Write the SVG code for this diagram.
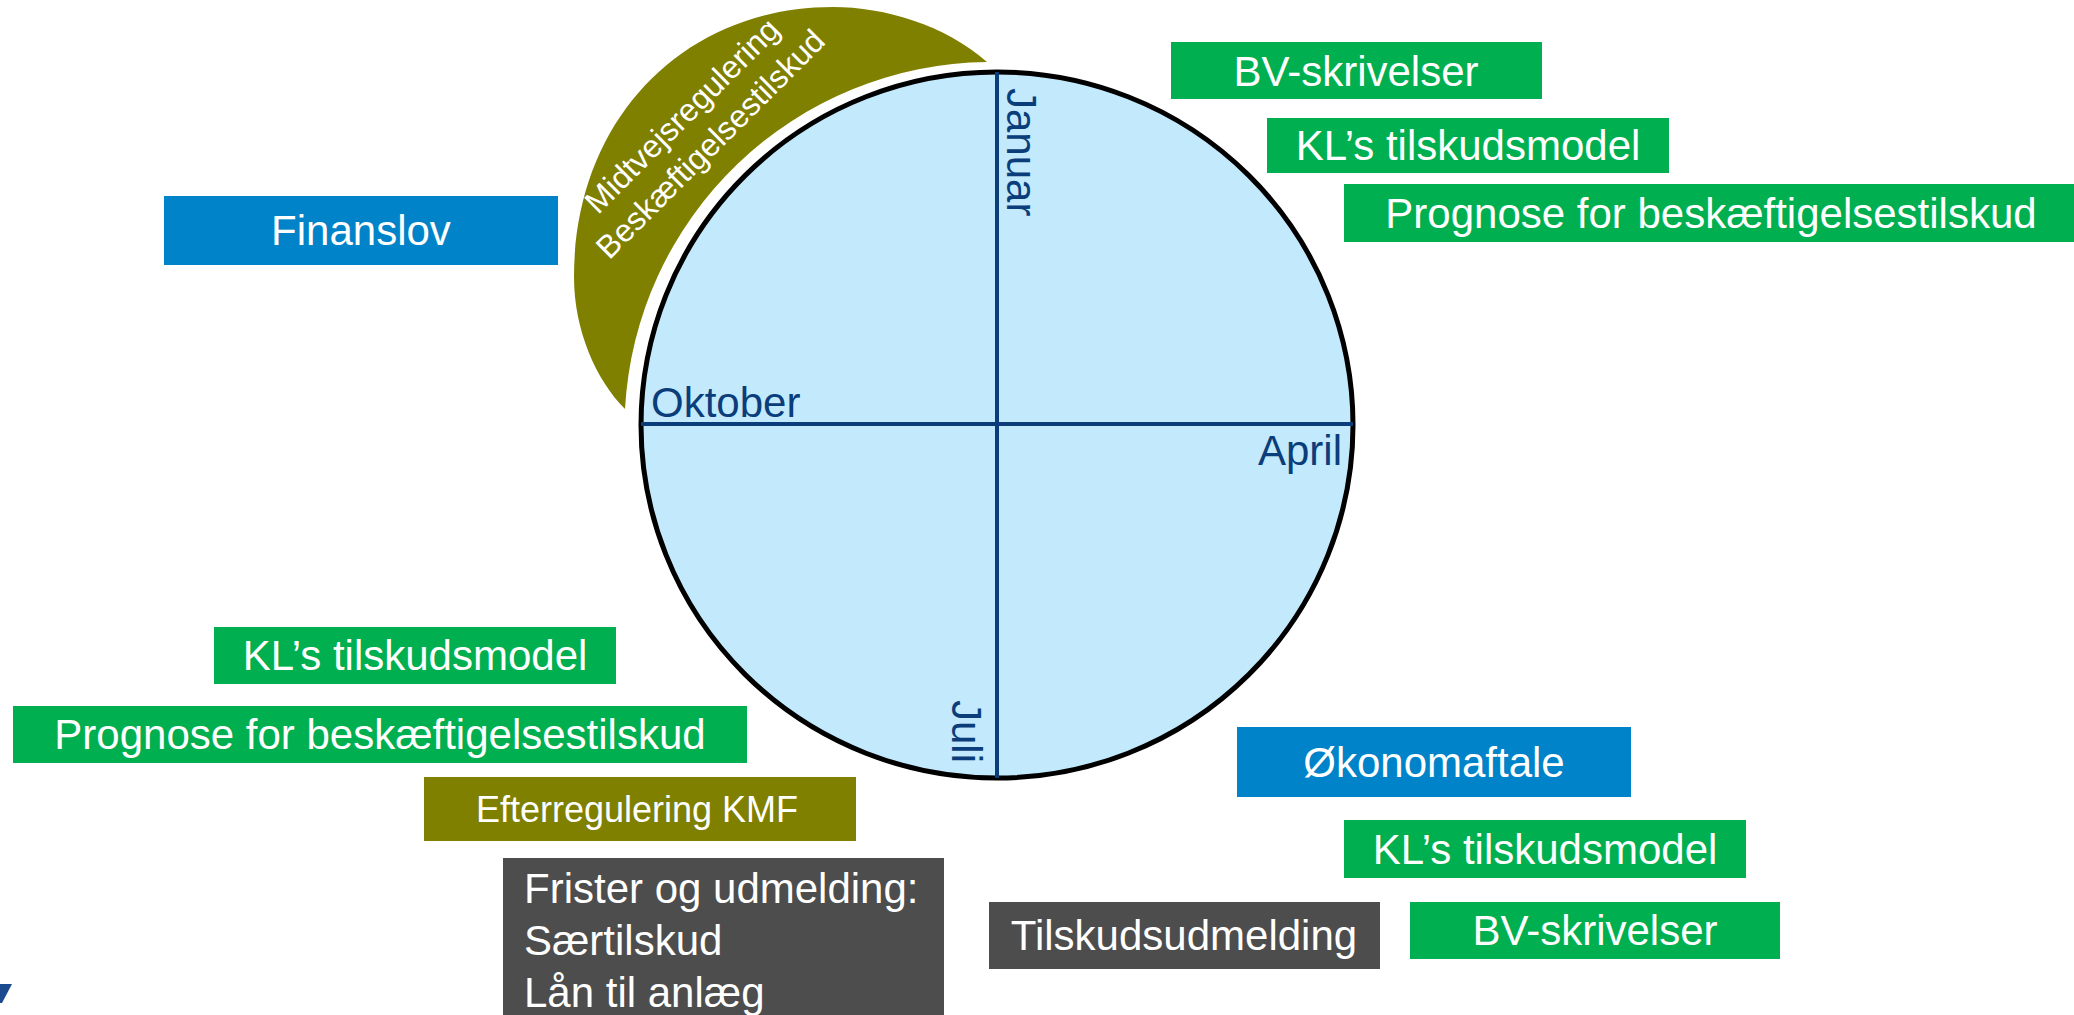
<svg xmlns="http://www.w3.org/2000/svg" width="2074" height="1015" viewBox="0 0 2074 1015">
<style>
  text { font-family: "Liberation Sans", Arial, sans-serif; }
  .lbl { fill: #ffffff; font-size: 42px; text-anchor: middle; }
  .lblL { fill: #ffffff; font-size: 42px; }
  .month { fill: #0A3D7A; font-size: 42px; }
  .green { fill: #00B050; }
  .blue { fill: #0083C8; }
  .olive { fill: #808000; }
  .gray { fill: #4D4D4D; }
  .axis { stroke: #0A3D7A; stroke-width: 4; fill: none; }
</style>
<rect width="2074" height="1015" fill="#ffffff"/>

<g id="crescent">
  <path class="olive" d="M 625 409 C 596 380, 574 330, 574 277 C 574 120, 683 7, 833 7 C 885 7, 945 25, 987 62 A 367 367 0 0 0 625 409 Z"/>
  <g transform="translate(704,137.5) rotate(-45)">
    <text x="0" y="-20" fill="#ffffff" font-size="32" text-anchor="middle">Midtvejsregulering</text>
    <text x="0" y="20" fill="#ffffff" font-size="32" text-anchor="middle">Beskæftigelsestilskud</text>
  </g>
</g>

<g id="wheel">
  <ellipse cx="997" cy="425" rx="356" ry="353" fill="#C2E9FC" stroke="#000000" stroke-width="5"/>
  <g id="axes">
    <line class="axis" x1="997" y1="72" x2="997" y2="778"/>
    <line class="axis" x1="641" y1="424" x2="1353" y2="424"/>
  </g>
  <text class="month" transform="translate(1007,88) rotate(90)">Januar</text>
  <text class="month" transform="translate(952,700) rotate(90)">Juli</text>
  <text class="month" x="651" y="417">Oktober</text>
  <text class="month" x="1342" y="465" text-anchor="end">April</text>
</g>

<g id="finanslov">
  <rect class="blue" x="164" y="196" width="394" height="69"/>
  <text class="lbl" x="361" y="245">Finanslov</text>
</g>

<g id="bv-top">
  <rect class="green" x="1171" y="42" width="371" height="57"/>
  <text class="lbl" x="1356" y="86">BV-skrivelser</text>
</g>

<g id="kl-top">
  <rect class="green" x="1267" y="118" width="402" height="55"/>
  <text class="lbl" x="1468" y="160">KL’s tilskudsmodel</text>
</g>

<g id="prognose-top">
  <rect class="green" x="1344" y="184" width="730" height="58"/>
  <text class="lbl" x="1711" y="228">Prognose for beskæftigelsestilskud</text>
</g>

<g id="kl-left">
  <rect class="green" x="214" y="627" width="402" height="57"/>
  <text class="lbl" x="415" y="670">KL’s tilskudsmodel</text>
</g>

<g id="prognose-left">
  <rect class="green" x="13" y="706" width="734" height="57"/>
  <text class="lbl" x="380" y="749">Prognose for beskæftigelsestilskud</text>
</g>

<g id="efterregulering">
  <rect class="olive" x="424" y="777" width="432" height="64"/>
  <text x="637" y="822" fill="#ffffff" font-size="36" text-anchor="middle">Efterregulering KMF</text>
</g>

<g id="frister">
  <rect class="gray" x="503" y="858" width="441" height="157"/>
  <text class="lblL" x="524" y="903">Frister og udmelding:</text>
  <text class="lblL" x="524" y="955">Særtilskud</text>
  <text class="lblL" x="524" y="1007">Lån til anlæg</text>
</g>

<g id="okonomaftale">
  <rect class="blue" x="1237" y="727" width="394" height="70"/>
  <text class="lbl" x="1434" y="777">Økonomaftale</text>
</g>

<g id="kl-bottom">
  <rect class="green" x="1344" y="820" width="402" height="58"/>
  <text class="lbl" x="1545" y="864">KL’s tilskudsmodel</text>
</g>

<g id="tilskudsudmelding">
  <rect class="gray" x="989" y="902" width="391" height="67"/>
  <text class="lbl" x="1184" y="950">Tilskudsudmelding</text>
</g>

<g id="bv-bottom">
  <rect class="green" x="1410" y="902" width="370" height="57"/>
  <text class="lbl" x="1595" y="945">BV-skrivelser</text>
</g>

<g id="logo">
  <polygon points="0,984 12,984 2,1003 0,1003" fill="#1B4A8F"/>
</g>

<g id="connectors"></g>
</svg>
